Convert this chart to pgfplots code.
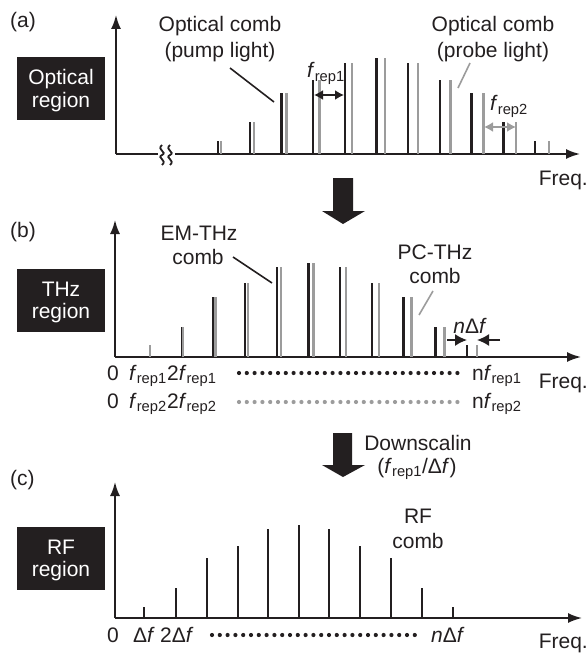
\documentclass[border=0pt]{standalone}
\usepackage{pgfplots}
\pgfplotsset{compat=1.18}
\usepackage{pgfplotstable}
\usetikzlibrary{arrows.meta}
\usepackage{fontspec}
\setmainfont{Liberation Sans}
\definecolor{bk}{HTML}{231F20}
\definecolor{gr}{HTML}{9C9C9C}
\newcommand{\frep}[1]{\textit{f}\textsubscript{rep#1}}

% panel (a): optical combs (x in px, height in px)
\pgfplotstableread{
x y
218.0 13
249.7 32
281.4 61
313.1 74
344.8 91
376.5 96
408.2 91
439.9 74
471.6 61
503.3 32
535.0 13
}\aBlack
\pgfplotstableread{
x y
221.0 13
253.8 32
286.6 61
319.4 74
352.2 91
385.0 96
417.8 91
450.6 74
483.4 61
516.2 32
549.0 13
}\aGray
% panel (b): THz combs
\pgfplotstableread{
x y
150.0 12
181.7 30
213.4 60
245.1 74
276.8 90
308.5 94
340.2 90
371.9 74
403.6 60
435.3 30
467.0 12
}\bBlack
\pgfplotstableread{
x y
150.0 12
182.7 30
215.4 60
248.1 74
280.8 90
313.5 94
346.2 90
378.9 74
411.6 60
444.3 30
477.0 12
}\bGray
% panel (c): RF comb
\pgfplotstableread{
x y
144 11
176 30
207 60
238 72
268 89
299 93
329 89
360 72
391 60
422 30
453 11
}\cBlack

\pgfplotsset{combaxis/.style={
  x=1pt, y=1pt, anchor=south west, axis lines=left, ymin=0,
  enlargelimits=false, xtick=\empty, ytick=\empty, clip=false,
  axis line style={line width=1.8pt, draw=bk, -{Latex[length=14pt,width=10pt]}},
}}

\begin{document}
\begin{tikzpicture}[every node/.style={font=\fontsize{21pt}{25pt}\selectfont, inner sep=0pt, text=bk}]
\useasboundingbox (0pt,0pt) rectangle (588pt,-658pt);

\begin{axis}[combaxis, at={(116pt,-154pt)}, xmin=116, xmax=580, ymax=139]
\addplot[ycomb, draw=bk, line width=2.4pt, mark=none] table {\aBlack};
\addplot[ycomb, draw=gr, line width=2.4pt, mark=none] table {\aGray};
\end{axis}

\begin{axis}[combaxis, at={(115pt,-357pt)}, xmin=115, xmax=581, ymax=137]
\addplot[ycomb, draw=bk, line width=2.4pt, mark=none] table {\bBlack};
\addplot[ycomb, draw=gr, line width=2.4pt, mark=none] table {\bGray};
\end{axis}

\begin{axis}[combaxis, at={(115pt,-618pt)}, xmin=115, xmax=582, ymax=136]
\addplot[ycomb, draw=bk, line width=2.4pt, mark=none] table {\cBlack};
\end{axis}

\begin{scope}[x=1pt, y=-1pt]
% ---------- panel (a)
\node[anchor=base west] at (10,28) {(a)};
\fill[bk] (17,57) rectangle (105,120);
\node[anchor=base, text=white] at (61,85) {Optical};
\node[anchor=base, text=white] at (61,107) {region};
\node[anchor=base] at (220,32) {Optical comb};
\node[anchor=base] at (220,58) {(pump light)};
\draw[bk, line width=1.6pt] (230,68) -- (274,102);
\node[anchor=base] at (493,32) {Optical comb};
\node[anchor=base] at (493,58) {(probe light)};
\draw[gr, line width=1.6pt] (470,63) -- (458,88);
\node[anchor=base west] at (307,78) {\frep{1}};
\draw[bk, line width=1.7pt, {Latex[length=9pt,width=10pt]}-{Latex[length=9pt,width=10pt]}] (314,95) -- (344,95);
\node[anchor=base west] at (490,111) {\frep{2}};
\draw[gr, line width=1.7pt, {Latex[length=9pt,width=10pt]}-{Latex[length=9pt,width=10pt]}] (484,127) -- (516,127);
\node[anchor=base east] at (588,185) {Freq.};
% axis break
\fill[white] (158,148) rectangle (175,160);
\draw[bk, line width=1.8pt] (162,145) .. controls (156,150) and (168,152) .. (162,155) .. controls (156,158) and (168,160) .. (162,165);
\draw[bk, line width=1.8pt] (170,145) .. controls (164,150) and (176,152) .. (170,155) .. controls (164,158) and (176,160) .. (170,165);
% big arrow
\fill[bk] (333,178) -- (353,178) -- (353,211) -- (365,211) -- (343,224) -- (322,211) -- (333,211) -- cycle;

% ---------- panel (b)
\node[anchor=base west] at (10,237) {(b)};
\fill[bk] (17,269) rectangle (105,332);
\node[anchor=base, text=white] at (61,296) {THz};
\node[anchor=base, text=white] at (61,318) {region};
\node[anchor=base] at (199,240) {EM-THz};
\node[anchor=base] at (198,264) {comb};
\draw[bk, line width=1.6pt] (233,257) -- (272,283);
\node[anchor=base] at (435,259) {PC-THz};
\node[anchor=base] at (435,283) {comb};
\draw[gr, line width=1.6pt] (433,291) -- (419,315);
\node[anchor=base] at (470,333) {\textit{n}Δ\textit{f}};
\draw[bk, line width=1.6pt, -{Latex[length=12pt,width=12pt]}] (447,340) -- (467,340);
\draw[bk, line width=1.6pt, -{Latex[length=12pt,width=12pt]}] (500,340) -- (477,340);
% tick labels row 1
\node[anchor=base west] at (107,380) {0};
\node[anchor=base west] at (129,380) {\frep{1}};
\node[anchor=base west] at (167,380) {2\frep{1}};
\draw[bk, line width=4.2pt, line cap=round, dash pattern=on 0pt off 7.8pt] (239,373) -- (463,373);
\node[anchor=base west] at (472,380) {n\frep{1}};
\node[anchor=base east] at (588,388) {Freq.};
% tick labels row 2
\node[anchor=base west] at (107,408) {0};
\node[anchor=base west] at (129,408) {\frep{2}};
\node[anchor=base west] at (167,408) {2\frep{2}};
\draw[gr, line width=4.2pt, line cap=round, dash pattern=on 0pt off 7.8pt] (239,402) -- (463,402);
\node[anchor=base west] at (472,408) {n\frep{2}};
% downscaling arrow
\fill[bk] (333,433) -- (352,433) -- (352,465) -- (365,465) -- (343,477) -- (322,465) -- (333,465) -- cycle;
\node[anchor=base] at (418,450) {Downscalin};
\node[anchor=base] at (417,473) {(\frep{1}/Δ\textit{f})};

% ---------- panel (c)
\node[anchor=base west] at (10,485) {(c)};
\fill[bk] (17,527) rectangle (105,590);
\node[anchor=base, text=white] at (61,554) {RF};
\node[anchor=base, text=white] at (61,576) {region};
\node[anchor=base] at (418,523) {RF};
\node[anchor=base] at (418,548) {comb};
\node[anchor=base west] at (107,642) {0};
\node[anchor=base west] at (133,642) {Δ\textit{f}};
\node[anchor=base west] at (160,642) {2Δ\textit{f}};
\draw[bk, line width=4.2pt, line cap=round, dash pattern=on 0pt off 7.8pt] (212,635) -- (416,635);
\node[anchor=base west] at (431,642) {\textit{n}Δ\textit{f}};
\node[anchor=base east] at (588,648) {Freq.};
\end{scope}
\end{tikzpicture}
\end{document}
